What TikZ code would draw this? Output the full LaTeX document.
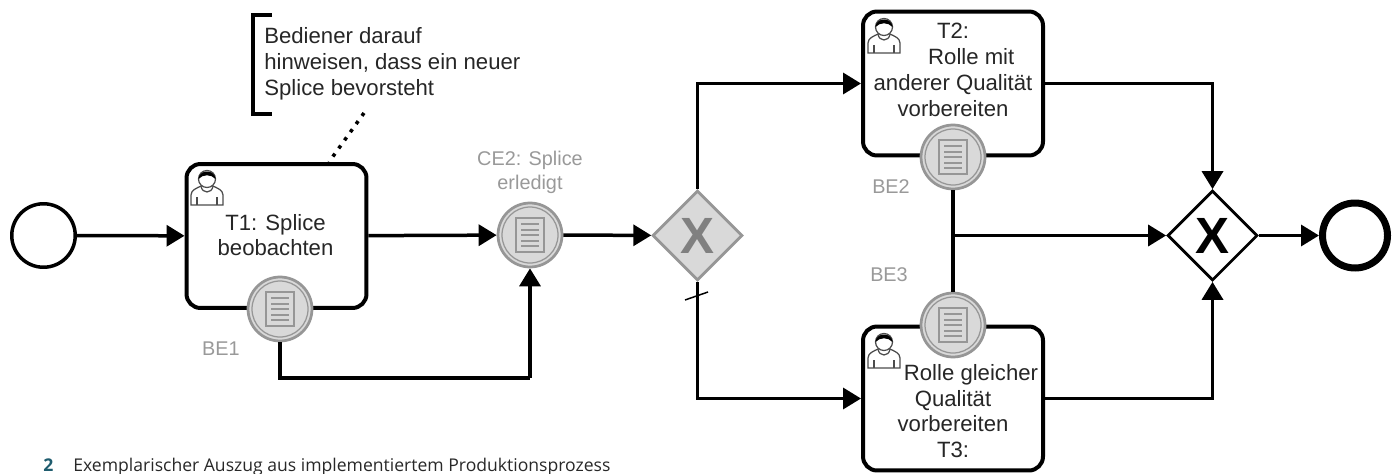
\documentclass[tikz,border=0pt]{standalone}
\usepackage{fontspec}
\usepackage{xcolor}
\usepackage{tikz}
\usetikzlibrary{arrows.meta, positioning, calc, shapes.geometric}
\setmainfont{Liberation Sans}
\newfontfamily\captionfont{Open Sans}
\definecolor{eventgray}{RGB}{217, 217, 217}
\definecolor{edgegray}{RGB}{150, 150, 150}
\definecolor{labelgray}{RGB}{153, 153, 153}
\definecolor{captionteal}{RGB}{31, 92, 110}
\definecolor{captiontext}{RGB}{40, 40, 40}

\tikzset{
    flow/.style={line width=0.07cm, -{Triangle[length=0.36cm, width=0.42cm]}},
    plainflow/.style={line width=0.07cm},
    tasknode/.style={draw, line width=0.08cm, rounded corners=0.28cm, minimum width=3.6cm, minimum height=2.88cm, fill=white},
    tasktext/.style={align=center, text=black!85, font=\fontsize{12.6}{14.7}\selectfont, inner sep=0pt},
    eventnode/.style={circle, draw=edgegray, line width=0.055cm, fill=eventgray, minimum size=1.28cm, inner sep=0pt},
    startnode/.style={circle, draw, line width=0.07cm, minimum size=1.27cm, inner sep=0pt},
    stopnode/.style={circle, draw, line width=0.14cm, minimum size=1.3cm, inner sep=0pt},
    gateway/.style={diamond, draw, line width=0.055cm, minimum width=1.8cm, minimum height=1.8cm, inner sep=0pt, font=\fontsize{29}{29}\selectfont\bfseries},
    greylabel/.style={text=labelgray, align=center, font=\fontsize{11.3}{13.6}\selectfont, inner sep=0pt},
    docicon/.pic={
        \draw[edgegray, line width=0.025cm] (0,0) circle [radius=28];
        \draw[edgegray, line width=0.04cm] (-14,-17) rectangle (14,17);
        \foreach \y in {-11, -5.5, 0, 5.5, 11}
            \draw[edgegray, line width=0.04cm] (-9,\y) -- (9,\y);
    },
    usericon/.pic={
        \draw[black!70, line width=0.025cm, fill=white] (0,35) -- (0,25) .. controls (0,20) and (6,18) .. (10,16) .. controls (11,24) and (21,24) .. (22,16) .. controls (26,18) and (32,20) .. (32,25) -- (32,35) -- cycle;
        \draw[black!70, line width=0.025cm] (6,27) -- (6,35) (26,27) -- (26,35);
        \draw[black!70, line width=0.025cm, fill=white] (16,9) circle [radius=8.5];
        \fill[black] (7.5,9) .. controls (8,-1) and (24,-1) .. (24.5,9) .. controls (20,4) and (12,4) .. cycle;
    }
}

\begin{document}
\begin{tikzpicture}[x=0.02cm, y=-0.02cm]
    \useasboundingbox (0,0) rectangle (1398,473);

    % Tasks
    \node[tasknode] (t1) at (276.5,236) {};
    \node[tasknode] (t2) at (953,83.5) {};
    \node[tasknode] (t3) at (953,398.5) {};
    \node[tasktext] (t1text) at (275.5,235) {T1: Splice\\beobachten};
    \node[tasktext] (t2text) at (953,70) {T2:\\\hspace*{0.73cm}Rolle mit\\anderer Qualität\\vorbereiten};
    \node[tasktext] (t3text) at (953,411) {\hspace*{0.72cm}Rolle gleicher\\Qualität\\vorbereiten\\T3:};

    % Events and gateways
    \node[startnode] (start) at (43.5,235.5) {};
    \node[eventnode] (be1) at (280,309) {};
    \node[eventnode] (ce2) at (530,235) {};
    \node[eventnode] (be2) at (953,157) {};
    \node[eventnode] (be3) at (953,325) {};
    \node[gateway, draw=edgegray, fill=eventgray, text=black!50] (gw1) at (697.5,235.5) {X};
    \node[gateway] (gw2) at (1212.5,235.5) {X};
    \node[stopnode] (stop) at (1355,235.5) {};

    % Icons on top
    \foreach \ev in {be1, ce2, be2, be3}
        \pic at (\ev) {docicon};
    \pic at (191,170) {usericon};
    \pic at (868,18) {usericon};
    \pic at (868,333) {usericon};

    % Sequence flows
    \coordinate (bendlow) at (530,378);
    \coordinate (junction) at (953,235.5);
    \draw[flow] (start) -- (t1);
    \draw[flow] (t1) -- (ce2);
    \draw[flow] (ce2) -- (gw1);
    \draw[plainflow] (be1.south) |- (bendlow);
    \draw[flow] (bendlow) -- (ce2.south);
    \draw[flow] (gw1.north) |- (t2.west);
    \draw[flow] (gw1.south) |- (t3.west);
    \draw[plainflow] (be2.south) -- (be3.north);
    \draw[flow] (junction) -- (gw2.west);
    \draw[flow] (t2.east) -| (gw2.north);
    \draw[flow] (t3.east) -| (gw2.south);
    \draw[flow] (gw2) -- (stop);

    % Default flow slash
    \draw[line width=0.03cm] (685,300) -- (708,292);

    % Annotation
    \draw[line width=0.07cm] (272,15) -- (253,15) -- (253,114) -- (272,114);
    \node[tasktext, anchor=west, align=left] (note) at (264,63.5) {Bediener darauf\\hinweisen, dass ein neuer\\Splice bevorsteht};
    \coordinate (notestart) at (364,113);
    \coordinate (notefoot) at (329,162);
    \draw[line width=0.07cm, dash pattern=on 0.07cm off 0.13cm] (notestart) -- (notefoot);

    % Grey labels
    \node[greylabel] (ce2label) at (530,172) {CE2: Splice\\erledigt};
    \node[greylabel] (be1label) at (221,349) {BE1};
    \node[greylabel] (be2label) at (891,187) {BE2};
    \node[greylabel] (be3label) at (889,275) {BE3};

    % Caption
    \node[anchor=base west, inner sep=0pt, text=captionteal, font=\captionfont\fontsize{10}{12}\selectfont\bfseries] (capnum) at (43,471) {2};
    \node[anchor=base west, inner sep=0pt, text=captiontext, font=\captionfont\fontsize{10}{12}\selectfont] (captext) at (73,471) {Exemplarischer Auszug aus implementiertem Produktionsprozess};
\end{tikzpicture}
\end{document}
